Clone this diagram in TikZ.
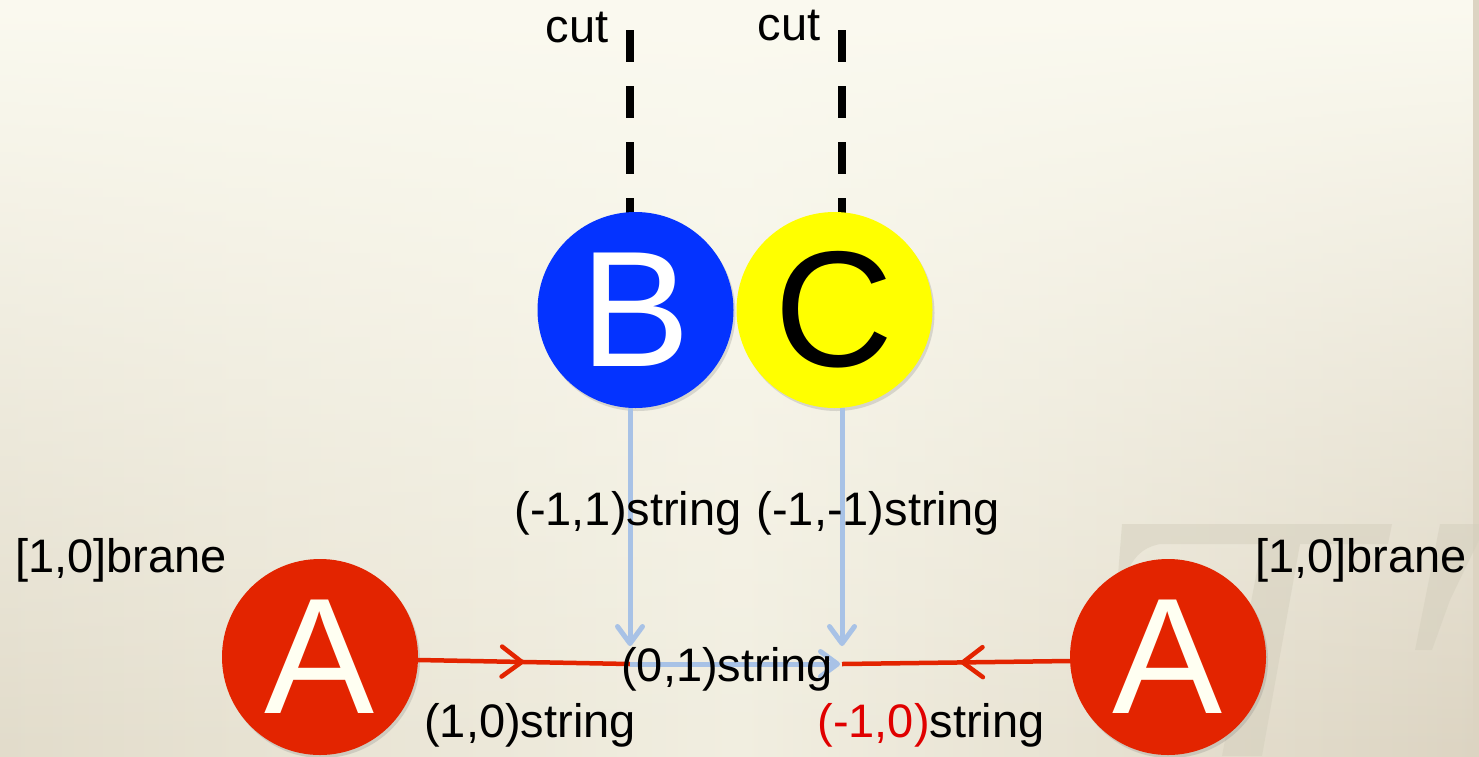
\documentclass[tikz,border=0pt]{standalone}
\usepackage{fontspec}
\setmainfont{Liberation Sans}
\usetikzlibrary{arrows.meta,decorations.markings,shadows,fadings}

\definecolor{bgtop}{HTML}{FBFAF0}
\definecolor{bgleft}{HTML}{E2DCCB}
\definecolor{bgmid}{HTML}{F1EEE0}
\definecolor{bgright}{HTML}{DCD4C2}
\definecolor{mark}{HTML}{D4CFBD}
\definecolor{braneRed}{HTML}{E32400}
\definecolor{bBlue}{HTML}{0433FF}
\definecolor{cYellow}{HTML}{FFFF00}
\definecolor{cream}{HTML}{FFFFF2}
\definecolor{strBlue}{HTML}{A8C2E6}
\definecolor{labRed}{HTML}{E00000}

\tikzset{
  lab/.style={font=\fontsize{47}{56}\selectfont, inner sep=0pt, anchor=base},
  bubble/.style={circle, minimum size=196pt, inner sep=0pt,
    font=\fontsize{165}{170}\selectfont,
    drop shadow={shadow xshift=2pt, shadow yshift=-3pt, opacity=0.25}},
  cutline/.style={line width=8pt, dash pattern=on 32pt off 24pt},
  redstring/.style={draw=braneRed, line width=4.5pt,
    postaction={decorate},
    decoration={markings, mark=at position #1 with
      {\arrow[braneRed, line width=4.5pt]{Straight Barb[length=20pt, width=30pt, round]}}}},
  bluestring/.style={draw=strBlue, line width=5pt,
    -{Straight Barb[length=17pt, width=25pt, round]}},
}

\begin{document}
\begin{tikzpicture}[x=1pt, y=-1pt]
  \useasboundingbox (0,0) rectangle (1479,756);

  % background: horizontal tint, lighter towards the top
  \shade[left color=bgleft, right color=bgright, middle color=bgmid]
    (0,0) rectangle (1479,756);
  \fill[bgtop, path fading=south] (0,0) rectangle (1479,756);

  % faint template watermark, lower right
  \begin{scope}[fill=mark, opacity=0.5]
    \fill (1122,524) -- (1392,524) -- (1388,544) -- (1300,544)
      -- (1262,756) -- (1222,756) -- (1262,544) -- (1160,544)
      .. controls (1140,548) and (1132,560) .. (1126,575) -- (1118,575) -- cycle;
    \fill (1440,524) -- (1479,524) -- (1479,540) -- (1450,600)
      -- (1432,650) -- (1415,650) -- cycle;
  \end{scope}

  % cut positions
  \coordinate (cutB) at (630,30);
  \coordinate (cutC) at (842,30);

  % branch cuts
  \draw[cutline] (cutB) -- (630,214);
  \draw[cutline] (cutC) -- (842,214);

  % 7-branes
  \node[bubble, fill=bBlue, text=white] (B) at (635.5,310) {B};
  \node[bubble, fill=cYellow, text=black] (C) at (834.5,310) {C};
  \node[bubble, fill=braneRed, text=cream] (AL) at (320,657) {\raisebox{-6pt}{A}};
  \node[bubble, fill=braneRed, text=cream] (AR) at (1168,657) {\raisebox{-6pt}{A}};

  % string junction points
  \coordinate (jB) at (630,646);
  \coordinate (jC) at (842,646);
  \coordinate (hL) at (630,664);
  \coordinate (hR) at (842,664);

  % (1,0) and (-1,0) strings
  \draw[redstring=0.5] ([yshift=-3pt]AL.east) -- (hL);
  \draw[redstring=0.48] ([yshift=-4pt]AR.west) -- (hR);

  % (-1,1), (-1,-1) and (0,1) strings
  \draw[bluestring] (B.south -| cutB) -- (jB);
  \draw[bluestring] (C.south -| cutC) -- (jC);
  \draw[bluestring] (hL) -- ([xshift=-2pt]hR);

  % labels
  \node[lab] (cutL1) at (577,42) {cut};
  \node[lab] (cutL2) at (789,40) {cut};
  \node[lab] (sB) at (628,525) {(-1,1)string};
  \node[lab] (sC) at (878,525) {(-1,-1)string};
  \node[lab, anchor=base west] (brL) at (15,572) {[1,0]brane};
  \node[lab, anchor=base west] (brR) at (1255,572) {[1,0]brane};
  \node[lab] (s01) at (727,681) {(0,1)string};
  \node[lab] (s10) at (530,737) {(1,0)string};
  \node[lab] (sm10) at (931,737) {\textcolor{labRed}{(-1,0)}string};
\end{tikzpicture}
\end{document}
